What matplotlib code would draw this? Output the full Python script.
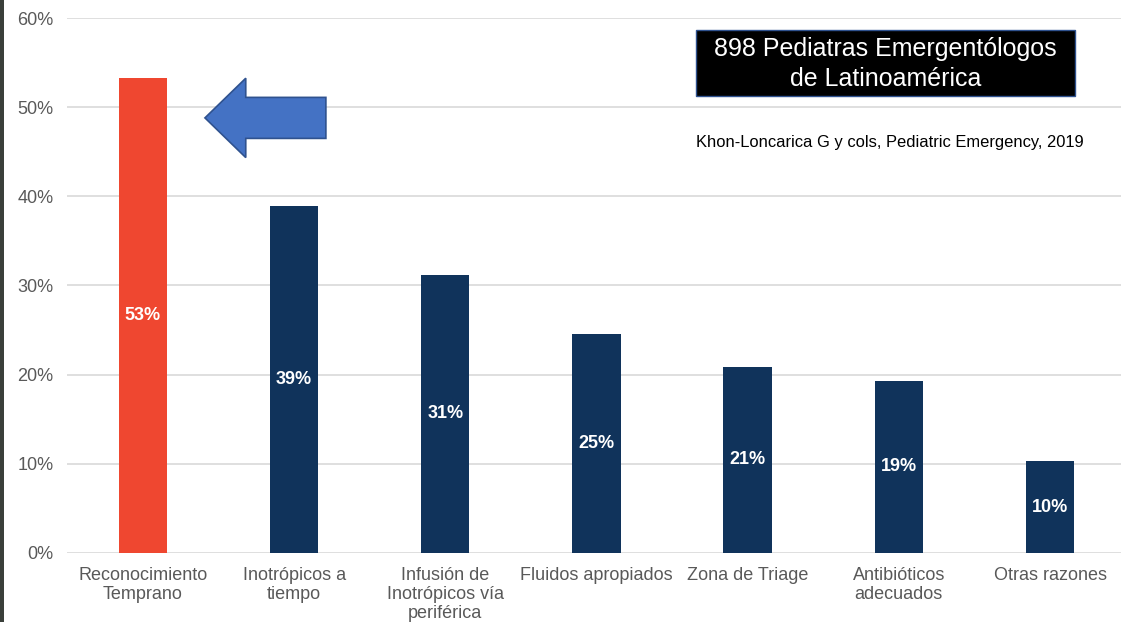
import numpy as np
import matplotlib.pyplot as plt
from matplotlib.patches import Polygon, Rectangle
from matplotlib.ticker import FuncFormatter

plt.rcParams['font.family'] = ['Liberation Sans', 'DejaVu Sans']

categories = ['Reconocimiento\nTemprano', 'Inotrópicos a\ntiempo',
              'Infusión de\nInotrópicos vía\nperiférica', 'Fluidos apropiados',
              'Zona de Triage', 'Antibióticos\nadecuados', 'Otras razones']
values = [53.3, 38.9, 31.2, 24.6, 20.9, 19.3, 10.3]
labels = ['53%', '39%', '31%', '25%', '21%', '19%', '10%']
colors = ['#EF4730'] + ['#10335B'] * 6

fig = plt.figure(figsize=(11.21, 6.22), dpi=100)
ax = fig.add_axes([0.0601, 0.111, 0.944, 0.860])

x = np.arange(len(categories))
bars = ax.bar(x, values, width=0.32, color=colors, zorder=3)
for b, lab in zip(bars, labels):
    ax.text(b.get_x() + b.get_width() / 2, b.get_height() / 2, lab,
            ha='center', va='center', color='white', fontsize=13, fontweight='bold', zorder=4)

ax.set_xlim(-0.5, 6.5)
ax.set_ylim(0, 60)
ax.set_yticks(np.arange(0, 61, 10))
ax.yaxis.set_major_formatter(FuncFormatter(lambda v, p: f'{v:.0f}%'))
ax.set_xticks(x)
ax.set_xticklabels(categories, fontsize=13, color='#595959', linespacing=1.17)
ax.tick_params(axis='y', labelsize=13, labelcolor='#595959', length=0, pad=10)
ax.tick_params(axis='x', length=0, pad=10)
ax.grid(axis='y', color='#D9D9D9', linewidth=1.2, zorder=0)
for s in ax.spines.values():
    s.set_visible(False)

# arrow pointing at the first bar
tip, head, tail, yc = 0.41, 0.68, 1.21, 48.8
arrow = Polygon([[tip, yc], [head, yc + 4.45], [head, yc + 2.3], [tail, yc + 2.3],
                 [tail, yc - 2.3], [head, yc - 2.3], [head, yc - 4.45]],
                closed=True, facecolor='#4472C4', edgecolor='#2F528F', linewidth=1.2, zorder=5)
ax.add_patch(arrow)

# title box
fig.patches.append(Rectangle((0.621, 0.846), 0.338, 0.106, transform=fig.transFigure,
                             facecolor='black', edgecolor='#2F528F', linewidth=1))
fig.text(0.790, 0.897, '898 Pediatras Emergentólogos\nde Latinoamérica', ha='center', va='center',
         color='white', fontsize=18, linespacing=1.32)
fig.text(0.794, 0.771, 'Khon-Loncarica G y cols, Pediatric Emergency, 2019',
         ha='center', va='center', fontsize=11.9, color='black')

# dark strip at left edge of the screenshot
fig.patches.append(Rectangle((0, 0), 0.004, 1, transform=fig.transFigure,
                             facecolor='#3a3f3a', edgecolor='none'))

fig.savefig('out.png', dpi=100)
